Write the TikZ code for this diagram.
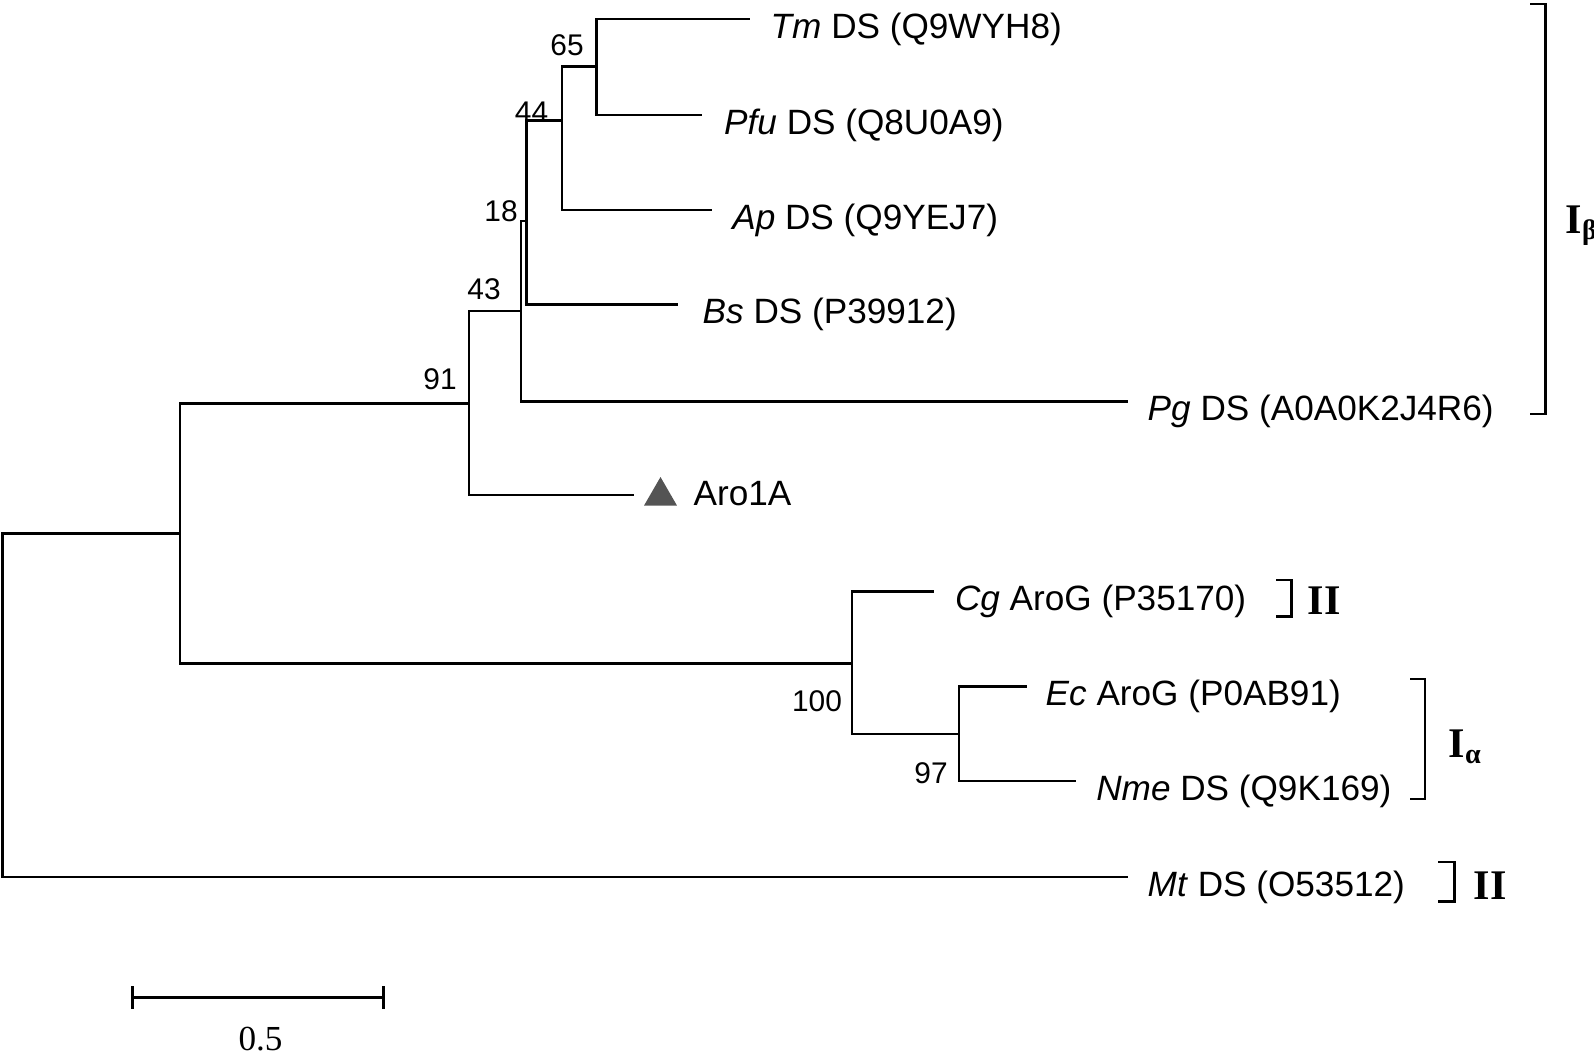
\documentclass[tikz,border=0pt]{standalone}
\usepackage{fontspec}
\setmainfont{Liberation Serif}
\setsansfont{Liberation Sans}
\usetikzlibrary{positioning,shapes.geometric}
\tikzset{
  br/.style={line width=0.8pt, to path={|- (\tikztotarget)}},
  leaf/.style={font=\sffamily\fontsize{10}{12}\selectfont, inner sep=0pt, anchor=base west},
  bs/.style={font=\sffamily\fontsize{8.5}{10}\selectfont, inner sep=0pt},
  grp/.style={font=\bfseries\fontsize{12}{14}\selectfont, inner sep=0pt, anchor=base west},
  clade/.style={line width=0.8pt},
  tri/.style={regular polygon, regular polygon sides=3, fill=black!67, minimum size=0.38cm, inner sep=0pt},
}

\begin{document}
\begin{tikzpicture}[x=0.01cm, y=-0.01cm]
\useasboundingbox (0,0) rectangle (1594,1062);
% inner nodes
\coordinate (root) at (2.3,706);
\coordinate (nA) at (180,533.3);
\coordinate (n91) at (469,403.3);
\coordinate (n43) at (521,311);
\coordinate (n18) at (526.6,221);
\coordinate (n44) at (562,120.7);
\coordinate (n65) at (596.7,66.7);
\coordinate (n100) at (852,663.3);
\coordinate (n97) at (959,734);
% tips
\coordinate (tTm) at (750,19);
\coordinate (tPfu) at (701.5,115);
\coordinate (tAp) at (711.6,210);
\coordinate (tBs) at (678,304.5);
\coordinate (tPg) at (1128,401.5);
\coordinate (tAro) at (634,495);
\coordinate (tCg) at (934.3,591.7);
\coordinate (tEc) at (1027,686.7);
\coordinate (tNme) at (1075.6,781);
\coordinate (tMt) at (1128,877);

\path
(root) edge[br] (nA) edge[br] (tMt)
(nA) edge[br] (n91) edge[br] (n100)
(n91) edge[br] (n43) edge[br] (tAro)
(n43) edge[br] (n18) edge[br] (tPg)
(n18) edge[br] (n44) edge[br] (tBs)
(n44) edge[br] (n65) edge[br] (tAp)
(n65) edge[br] (tTm) edge[br] (tPfu)
(n100) edge[br] (tCg) edge[br] (n97)
(n97) edge[br] (tEc) edge[br] (tNme);

% leaf names
\node[leaf] (lTm) at ([shift={(20,19)}]tTm) {\textit{Tm} DS (Q9WYH8)};
\node[leaf] (lPfu) at ([shift={(22,19)}]tPfu) {\textit{Pfu} DS (Q8U0A9)};
\node[leaf] (lAp) at ([shift={(20,19)}]tAp) {\textit{Ap} DS (Q9YEJ7)};
\node[leaf] (lBs) at ([shift={(24,19)}]tBs) {\textit{Bs} DS (P39912)};
\node[leaf] (lPg) at ([shift={(19,19)}]tPg) {\textit{Pg} DS (A0A0K2J4R6)};
\node[tri] (mark) at ([shift={(26.5,1)}]tAro) {};
\node[leaf] (lAro) at ([shift={(59,10)}]tAro) {Aro1A};
\node[leaf] (lCg) at ([shift={(20,19)}]tCg) {\textit{Cg} AroG (P35170)};
\node[leaf] (lEc) at ([shift={(18,19)}]tEc) {\textit{Ec} AroG (P0AB91)};
\node[leaf] (lNme) at ([shift={(20,19)}]tNme) {\textit{Nme} DS (Q9K169)};
\node[leaf] (lMt) at ([shift={(19,19)}]tMt) {\textit{Mt} DS (O53512)};

% bootstrap values
\node[bs] (b65) at (567,44.7) {65};
\node[bs] (b44) at (531.6,112) {44};
\node[bs] (b18) at (501,211) {18};
\node[bs] (b43) at (484,289) {43};
\node[bs] (b91) at (440,379) {91};
\node[bs] (b100) at (817,700.7) {100};
\node[bs] (b97) at (931,773.3) {97};

% groups
\draw[clade] (1530,4) -| (1545.7,414) -- (1530,414);
\node[grp] (gIb) at (1565,233) {I\textsubscript{β}};
\draw[clade] (1276,580) -| (1291.7,616.7) -- (1276,616.7);
\node[grp] (gII) at (1307,614) {II};
\draw[clade] (1410,679) -| (1425,799) -- (1410,799);
\node[grp] (gIa) at (1448,757) {I\textsubscript{α}};
\draw[clade] (1438.3,862) -| (1454.3,901.7) -- (1438.3,901.7);
\node[grp] (gIIb) at (1473,899) {II};

% scale
\coordinate (sL) at (132.7,997.7);
\coordinate (sR) at (383.3,997.7);
\draw[clade] (sL) -- (sR);
\draw[clade] ([yshift=0.117cm]sL) -- ([yshift=-0.117cm]sL);
\draw[clade] ([yshift=0.117cm]sR) -- ([yshift=-0.117cm]sR);
\node[font=\fontsize{10}{12}\selectfont, inner sep=0pt, anchor=base] (sc) at (260.5,1050) {0.5};
\end{tikzpicture}
\end{document}
